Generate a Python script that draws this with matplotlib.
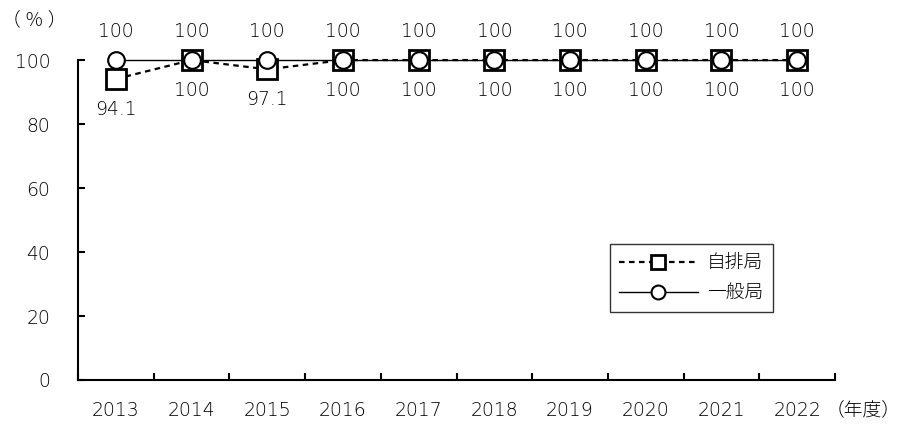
import matplotlib.pyplot as plt
import numpy as np

plt.rcParams['font.family'] = ['DejaVu Sans', 'Noto Sans CJK JP']
plt.rcParams['font.weight'] = 'light'

years = ['2013', '2014', '2015', '2016', '2017', '2018', '2019', '2020', '2021', '2022']
jihai = [94.1, 100, 97.1, 100, 100, 100, 100, 100, 100, 100]   # 自排局
ippan = [100, 100, 100, 100, 100, 100, 100, 100, 100, 100]     # 一般局

fig = plt.figure(figsize=(9.03, 4.26), dpi=100)
ax = fig.add_axes([0.0864, 0.108, 0.8383, 0.751])

x = np.arange(len(years))
ax.plot(x, jihai, linestyle=(0, (2.5, 2)), color='black', lw=1.6,
        marker='s', markersize=14.5, markerfacecolor='white', markeredgecolor='black',
        markeredgewidth=2, label='自排局', clip_on=False, zorder=3)
ax.plot(x, ippan, linestyle='-', color='black', lw=1,
        marker='o', markersize=12, markerfacecolor='white', markeredgecolor='black',
        markeredgewidth=1.5, label='一般局', clip_on=False, zorder=4)

fs = 13.5
for i, v in enumerate(ippan):
    ax.annotate(f'{v:g}', (i, v), xytext=(0, 14), textcoords='offset points',
                ha='center', va='bottom', fontsize=fs)
for i, v in enumerate(jihai):
    ax.annotate(f'{v:g}', (i, v), xytext=(0, -15), textcoords='offset points',
                ha='center', va='top', fontsize=fs)

ax.set_xlim(-0.5, len(years) - 0.5)
ax.set_ylim(0, 100)
ax.set_yticks(range(0, 101, 20))
ax.tick_params(axis='y', direction='in', length=5, width=1.5, labelsize=fs, pad=20)
ax.set_xticks(x)
ax.set_xticklabels(years)
ax.set_xticks(np.arange(-0.5, len(years)), minor=True)
ax.tick_params(axis='x', which='major', length=0, labelsize=fs, pad=15)
ax.tick_params(axis='x', which='minor', direction='in', length=5, width=1.5)

for s in ['top', 'right']:
    ax.spines[s].set_visible(False)
for s in ['left', 'bottom']:
    ax.spines[s].set_linewidth(1.5)

fig.text(0.002, 0.952, '（ ％ ）', fontsize=fs, ha='left', va='center',
         family='Noto Sans CJK JP')
fig.text(0.914, 0.037, '（年度）', fontsize=fs, ha='left', va='center',
         family='Noto Sans CJK JP')

leg = ax.legend(loc='upper left', bbox_to_anchor=(0.69, 0.455), fontsize=fs,
                frameon=True, fancybox=False, edgecolor='black', handlelength=4.2,
                handletextpad=0.5, borderpad=0.5, labelspacing=0.6)
leg.get_frame().set_linewidth(1)
for h in leg.legend_handles:
    h.set_markersize(10)

fig.savefig('out.png', dpi=100)
